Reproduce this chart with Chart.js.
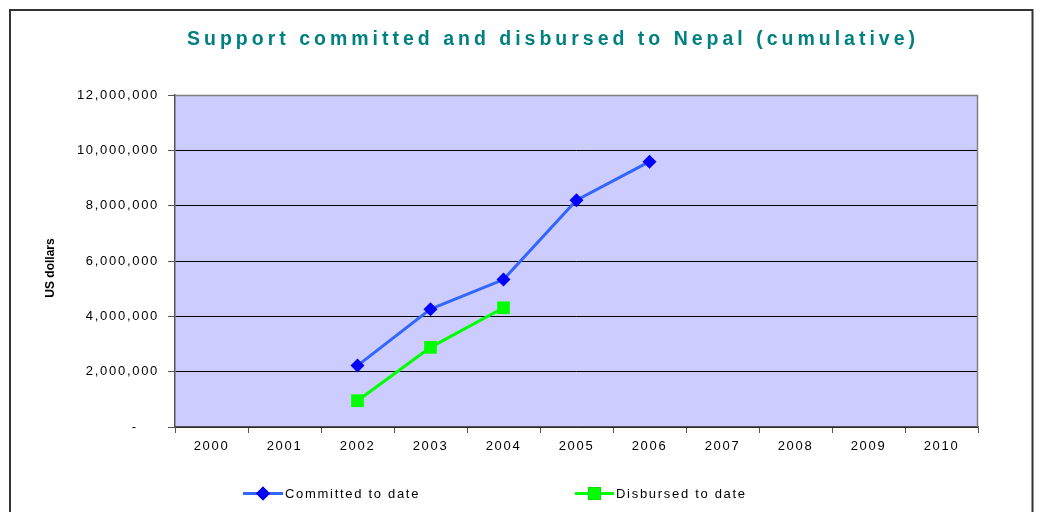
<!DOCTYPE html>
<html>
<head>
<meta charset="utf-8">
<script src="https://cdn.jsdelivr.net/npm/chart.js@4/dist/chart.umd.min.js"></script>
<style>
  html, body { margin: 0; padding: 0; background: #ffffff; }
  #wrap { width: 1042px; height: 512px; position: relative; }
</style>
</head>
<body>
<div id="wrap"><canvas id="c" width="1042" height="512"></canvas></div>
<script>
// ---- data ----
const title = 'Support committed and disbursed to Nepal (cumulative)';
const yAxisTitle = 'US dollars';
const years = ['2000','2001','2002','2003','2004','2005','2006','2007','2008','2009','2010'];
const committedLabel = 'Committed to date';
const committed = [null, null, 2220000, 4260000, 5330000, 8200000, 9590000, null, null, null, null];
const disbursedLabel = 'Disbursed to date';
const disbursed = [null, null, 950000, 2880000, 4310000, null, null, null, null, null, null];
const yMin = 0, yMax = 12000000, yStep = 2000000;

const FONT = "'Liberation Sans', Arial, Helvetica, sans-serif";
Chart.defaults.font.family = FONT;
Chart.defaults.font.size = 13;
Chart.defaults.color = '#000000';

const spacingPlugin = {
  id: 'spacing',
  beforeUpdate(chart) { chart.ctx.letterSpacing = '1.7px'; },
  beforeDraw(chart) { chart.ctx.letterSpacing = '1.7px'; }
};

const decorPlugin = {
  id: 'decor',
  beforeDraw(chart) {
    const ctx = chart.ctx, a = chart.chartArea;
    ctx.save();
    ctx.fillStyle = '#ffffff';
    ctx.fillRect(0, 0, chart.width, chart.height);
    // outer frame (top, left, right)
    ctx.strokeStyle = '#333333';
    ctx.lineWidth = 2;
    ctx.beginPath();
    ctx.moveTo(10, 512); ctx.lineTo(10, 10); ctx.lineTo(1032.5, 10); ctx.lineTo(1032.5, 512);
    ctx.stroke();
    // plot background
    ctx.fillStyle = '#CCCCFF';
    ctx.fillRect(a.left, a.top, a.right - a.left, a.bottom - a.top);
    ctx.restore();
  },
  beforeDatasetsDraw(chart) {
    const ctx = chart.ctx, a = chart.chartArea;
    ctx.save();
    ctx.strokeStyle = '#808080';
    ctx.lineWidth = 1.5;
    ctx.beginPath();
    ctx.moveTo(a.left, a.top + 0.5); ctx.lineTo(a.right - 0.5, a.top + 0.5); ctx.lineTo(a.right - 0.5, a.bottom);
    ctx.stroke();
    ctx.restore();
  },
  afterDraw(chart) {
    const ctx = chart.ctx;
    ctx.save();
    // title
    ctx.letterSpacing = '4px';
    ctx.font = 'bold 19.5px ' + FONT;
    ctx.fillStyle = '#008080';
    ctx.textAlign = 'left';
    ctx.textBaseline = 'alphabetic';
    ctx.fillText(title, 187, 45);
    // y axis title
    ctx.letterSpacing = '0px';
    ctx.font = 'bold 12px ' + FONT;
    ctx.fillStyle = '#000000';
    ctx.translate(54, 268);
    ctx.rotate(-Math.PI / 2);
    ctx.textAlign = 'center';
    ctx.textBaseline = 'alphabetic';
    ctx.fillText(yAxisTitle, 0, 0);
    ctx.restore();

    // legend
    const items = [
      { ds: chart.data.datasets[0], x0: 243, x1: 283, tx: 285 },
      { ds: chart.data.datasets[1], x0: 575, x1: 614, tx: 616 }
    ];
    ctx.save();
    ctx.letterSpacing = '1.7px';
    ctx.font = '13px ' + FONT;
    items.forEach(it => {
      const y = 493.5;
      ctx.strokeStyle = it.ds.borderColor;
      ctx.lineWidth = 3;
      ctx.beginPath(); ctx.moveTo(it.x0, y); ctx.lineTo(it.x1, y); ctx.stroke();
      Chart.helpers.drawPoint(ctx, {
        pointStyle: it.ds.pointStyle, radius: it.ds.pointRadius, borderWidth: 0, rotation: 0
      }, (it.x0 + it.x1) / 2, y);
      ctx.fillStyle = it.ds.pointBackgroundColor;
      ctx.fill();
      ctx.fillStyle = '#000000';
      ctx.textAlign = 'left';
      ctx.textBaseline = 'alphabetic';
      ctx.fillText(it.ds.label, it.tx, 498);
    });
    ctx.restore();
  }
};

new Chart(document.getElementById('c'), {
  type: 'line',
  data: {
    labels: years,
    datasets: [
      {
        label: committedLabel,
        data: committed,
        borderColor: '#3366FF',
        borderWidth: 3,
        tension: 0,
        pointStyle: 'rectRot',
        pointRadius: 7,
        pointBackgroundColor: '#0000FF',
        pointBorderColor: '#0000FF',
        pointBorderWidth: 0,
        spanGaps: false
      },
      {
        label: disbursedLabel,
        data: disbursed,
        borderColor: '#00FF00',
        borderWidth: 3,
        tension: 0,
        pointStyle: 'rect',
        pointRadius: 9,
        pointBackgroundColor: '#00FF00',
        pointBorderColor: '#00FF00',
        pointBorderWidth: 0,
        spanGaps: false
      }
    ]
  },
  options: {
    responsive: false,
    animation: false,
    devicePixelRatio: 1,
    layout: { padding: { left: 0, right: 64, top: 95, bottom: 57 } },
    plugins: {
      legend: { display: false },
      title: { display: false },
      tooltip: { enabled: false }
    },
    scales: {
      x: {
        type: 'category',
        offset: true,
        grid: {
          offset: true,
          drawOnChartArea: false,
          drawTicks: true,
          tickLength: 6,
          tickColor: '#555555',
          tickWidth: 1
        },
        border: { display: true, color: '#555555', width: 1.5 },
        ticks: { padding: 6, font: { size: 13 }, color: '#000000', maxRotation: 0, autoSkip: false },
        afterFit(scale) { scale.height = 28; }
      },
      y: {
        min: yMin,
        max: yMax,
        grid: {
          color: (c) => (c.tick && c.tick.value === yMax) ? 'rgba(0,0,0,0)' : '#000000',
          lineWidth: 1,
          drawTicks: true,
          tickLength: 7,
          tickColor: '#555555'
        },
        border: { display: true, color: '#555555', width: 1.5 },
        ticks: {
          stepSize: yStep,
          padding: 9,
          font: { size: 13 },
          color: '#000000',
          callback: (v) => v === 0 ? '-    ' : Number(v).toLocaleString('en-US')
        },
        afterFit(scale) { scale.width = 175; }
      }
    }
  },
  plugins: [spacingPlugin, decorPlugin]
});
</script>
</body>
</html>
